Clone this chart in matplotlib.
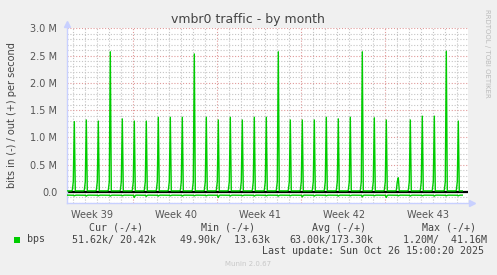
import numpy as np
import matplotlib.pyplot as plt
from matplotlib.patches import Rectangle
from matplotlib.ticker import MultipleLocator, FuncFormatter

# one peak per day (M bits/s), read left to right
out_peaks = [1.29, 1.32, 1.30, 2.57, 1.34, 1.30, 1.30, 1.37, 1.37, 1.37, 2.53,
             1.37, 1.32, 1.37, 1.32, 1.37, 1.37, 2.57, 1.32, 1.32, 1.32, 1.37,
             1.34, 1.37, 2.57, 1.36, 1.32, 0.26, 1.32, 1.39, 1.39, 2.58, 1.30]
# one day of 2h samples, the peak goes in slot 7
out_day = [0.02, 0.02, 0.02, 0.02, 0.02, 0.03, 0.19, None, 0.02, 0.02, 0.02, 0.02]
in_day = [-0.058, -0.058, -0.06, -0.058, -0.056, -0.058, -0.06, None, -0.062, -0.058, -0.058, -0.058]
# deepest point of the "in" line each day (slot 7)
in_dips = [-0.07, -0.075, -0.07, -0.075, -0.07, -0.10, -0.08, -0.075, -0.07, -0.075, -0.07,
           -0.07, -0.10, -0.075, -0.07, -0.075, -0.07, -0.075, -0.07, -0.09, -0.075, -0.07,
           -0.075, -0.07, -0.09, -0.07, -0.10, -0.07, -0.075, -0.07, -0.075, -0.07, -0.07]
week_labels = ['Week 39', 'Week 40', 'Week 41', 'Week 42', 'Week 43']

out_vals, in_vals = [], []
for peak, dip in zip(out_peaks, in_dips):
    out_vals += [peak if v is None else v for v in out_day]
    in_vals += [dip if v is None else v for v in in_day]
out_vals = np.array(out_vals)
in_vals = np.array(in_vals)
x = np.arange(len(out_vals)) + 0.3  # one sample = 2 hours = 1 px

W, H = 497, 275
def px(a, b):
    return a / W, 1 - b / H

fig = plt.figure(figsize=(W / 100, H / 100), dpi=100, facecolor='#F0F0F0')
left, right, top, bottom = 67, 468, 28.3, 202.9
ax = fig.add_axes([left / W, 1 - bottom / H, (right - left) / W, (bottom - top) / H])
ax.set_facecolor('white')
ax.set_xlim(0, right - left)
ax.set_ylim(-0.2, 3.0)

grey = '#C4C4C4'
red = '#E09A9A'
dot = (0, (1, 1.6))
for xv in np.arange(6.3, right - left, 12):
    week = abs((xv - 66.3) % 84) < 0.01
    ax.axvline(xv, color=red if week else grey, ls=dot, lw=0.8, zorder=0.5)
ax.yaxis.set_major_locator(MultipleLocator(0.5))
ax.yaxis.set_minor_locator(MultipleLocator(0.1))
ax.grid(axis='y', which='minor', color=grey, ls=dot, lw=0.8, zorder=0.5)
ax.grid(axis='y', which='major', color=red, ls=dot, lw=0.8, zorder=0.6)
ax.set_axisbelow(True)

ax.axhline(0, color='black', lw=1.6, zorder=2)
ax.plot(x, out_vals, color='#00CC00', lw=1.0, zorder=3)
ax.plot(x, in_vals, color='#00CC00', lw=1.0, zorder=3)

ax.yaxis.set_major_formatter(FuncFormatter(lambda v, p: '0.0' if abs(v) < 1e-9 else f'{v:.1f} M'))
ax.set_xticks([25 + 84 * i for i in range(len(week_labels))])
ax.set_xticklabels(week_labels)
ax.tick_params(which='both', length=0, labelsize=7, colors='#555555')
ax.tick_params(axis='y', pad=7)
ax.tick_params(axis='x', pad=5)

axis_col = '#C8D0FF'
for s in ['top', 'right']:
    ax.spines[s].set_visible(False)
for s in ['left', 'bottom']:
    ax.spines[s].set_color(axis_col)
    ax.spines[s].set_linewidth(1.0)
ax.plot(0, 1.024, marker='^', ms=4.5, color=axis_col, transform=ax.transAxes, clip_on=False)
ax.plot(1.009, 0, marker='>', ms=4.5, color=axis_col, transform=ax.transAxes, clip_on=False)

txt = '#444444'
fig.text(*px(248, 20), 'vmbr0 traffic - by month', ha='center', va='center', fontsize=9, color=txt)
fig.text(*px(12, 115.5), 'bits in (-) / out (+) per second', rotation=90,
         ha='center', va='center', fontsize=7, color=txt)
fig.text(*px(487, 53), 'RRDTOOL / TOBI OETIKER', rotation=270,
         ha='center', va='center', fontsize=5, color='#BBBBBB')

mono = dict(family='DejaVu Sans Mono', fontsize=7.2, color=txt, va='center', ha='left')
for xp, s in [(89, 'Cur (-/+)'), (201, 'Min (-/+)'), (312, 'Avg (-/+)'), (422.5, 'Max (-/+)')]:
    fig.text(*px(xp, 228), s, **mono)
for xp, s in [(27, 'bps'), (72, '51.62k/ 20.42k'), (180, '49.90k/  13.63k'),
              (289, '63.00k/173.30k'), (403, '1.20M/  41.16M')]:
    fig.text(*px(xp, 239.5), s, **mono)
fig.text(*px(261.5, 251), 'Last update: Sun Oct 26 15:00:20 2025', **mono)
fig.patches.append(Rectangle(px(14, 242.7), 6 / W, 5.4 / H, transform=fig.transFigure,
                             facecolor='#00CC00', edgecolor='none'))
fig.text(*px(248, 264), 'Munin 2.0.67', ha='center', va='center', fontsize=5, color='#C8C8C8')

fig.savefig('out.png', dpi=100, facecolor=fig.get_facecolor())
